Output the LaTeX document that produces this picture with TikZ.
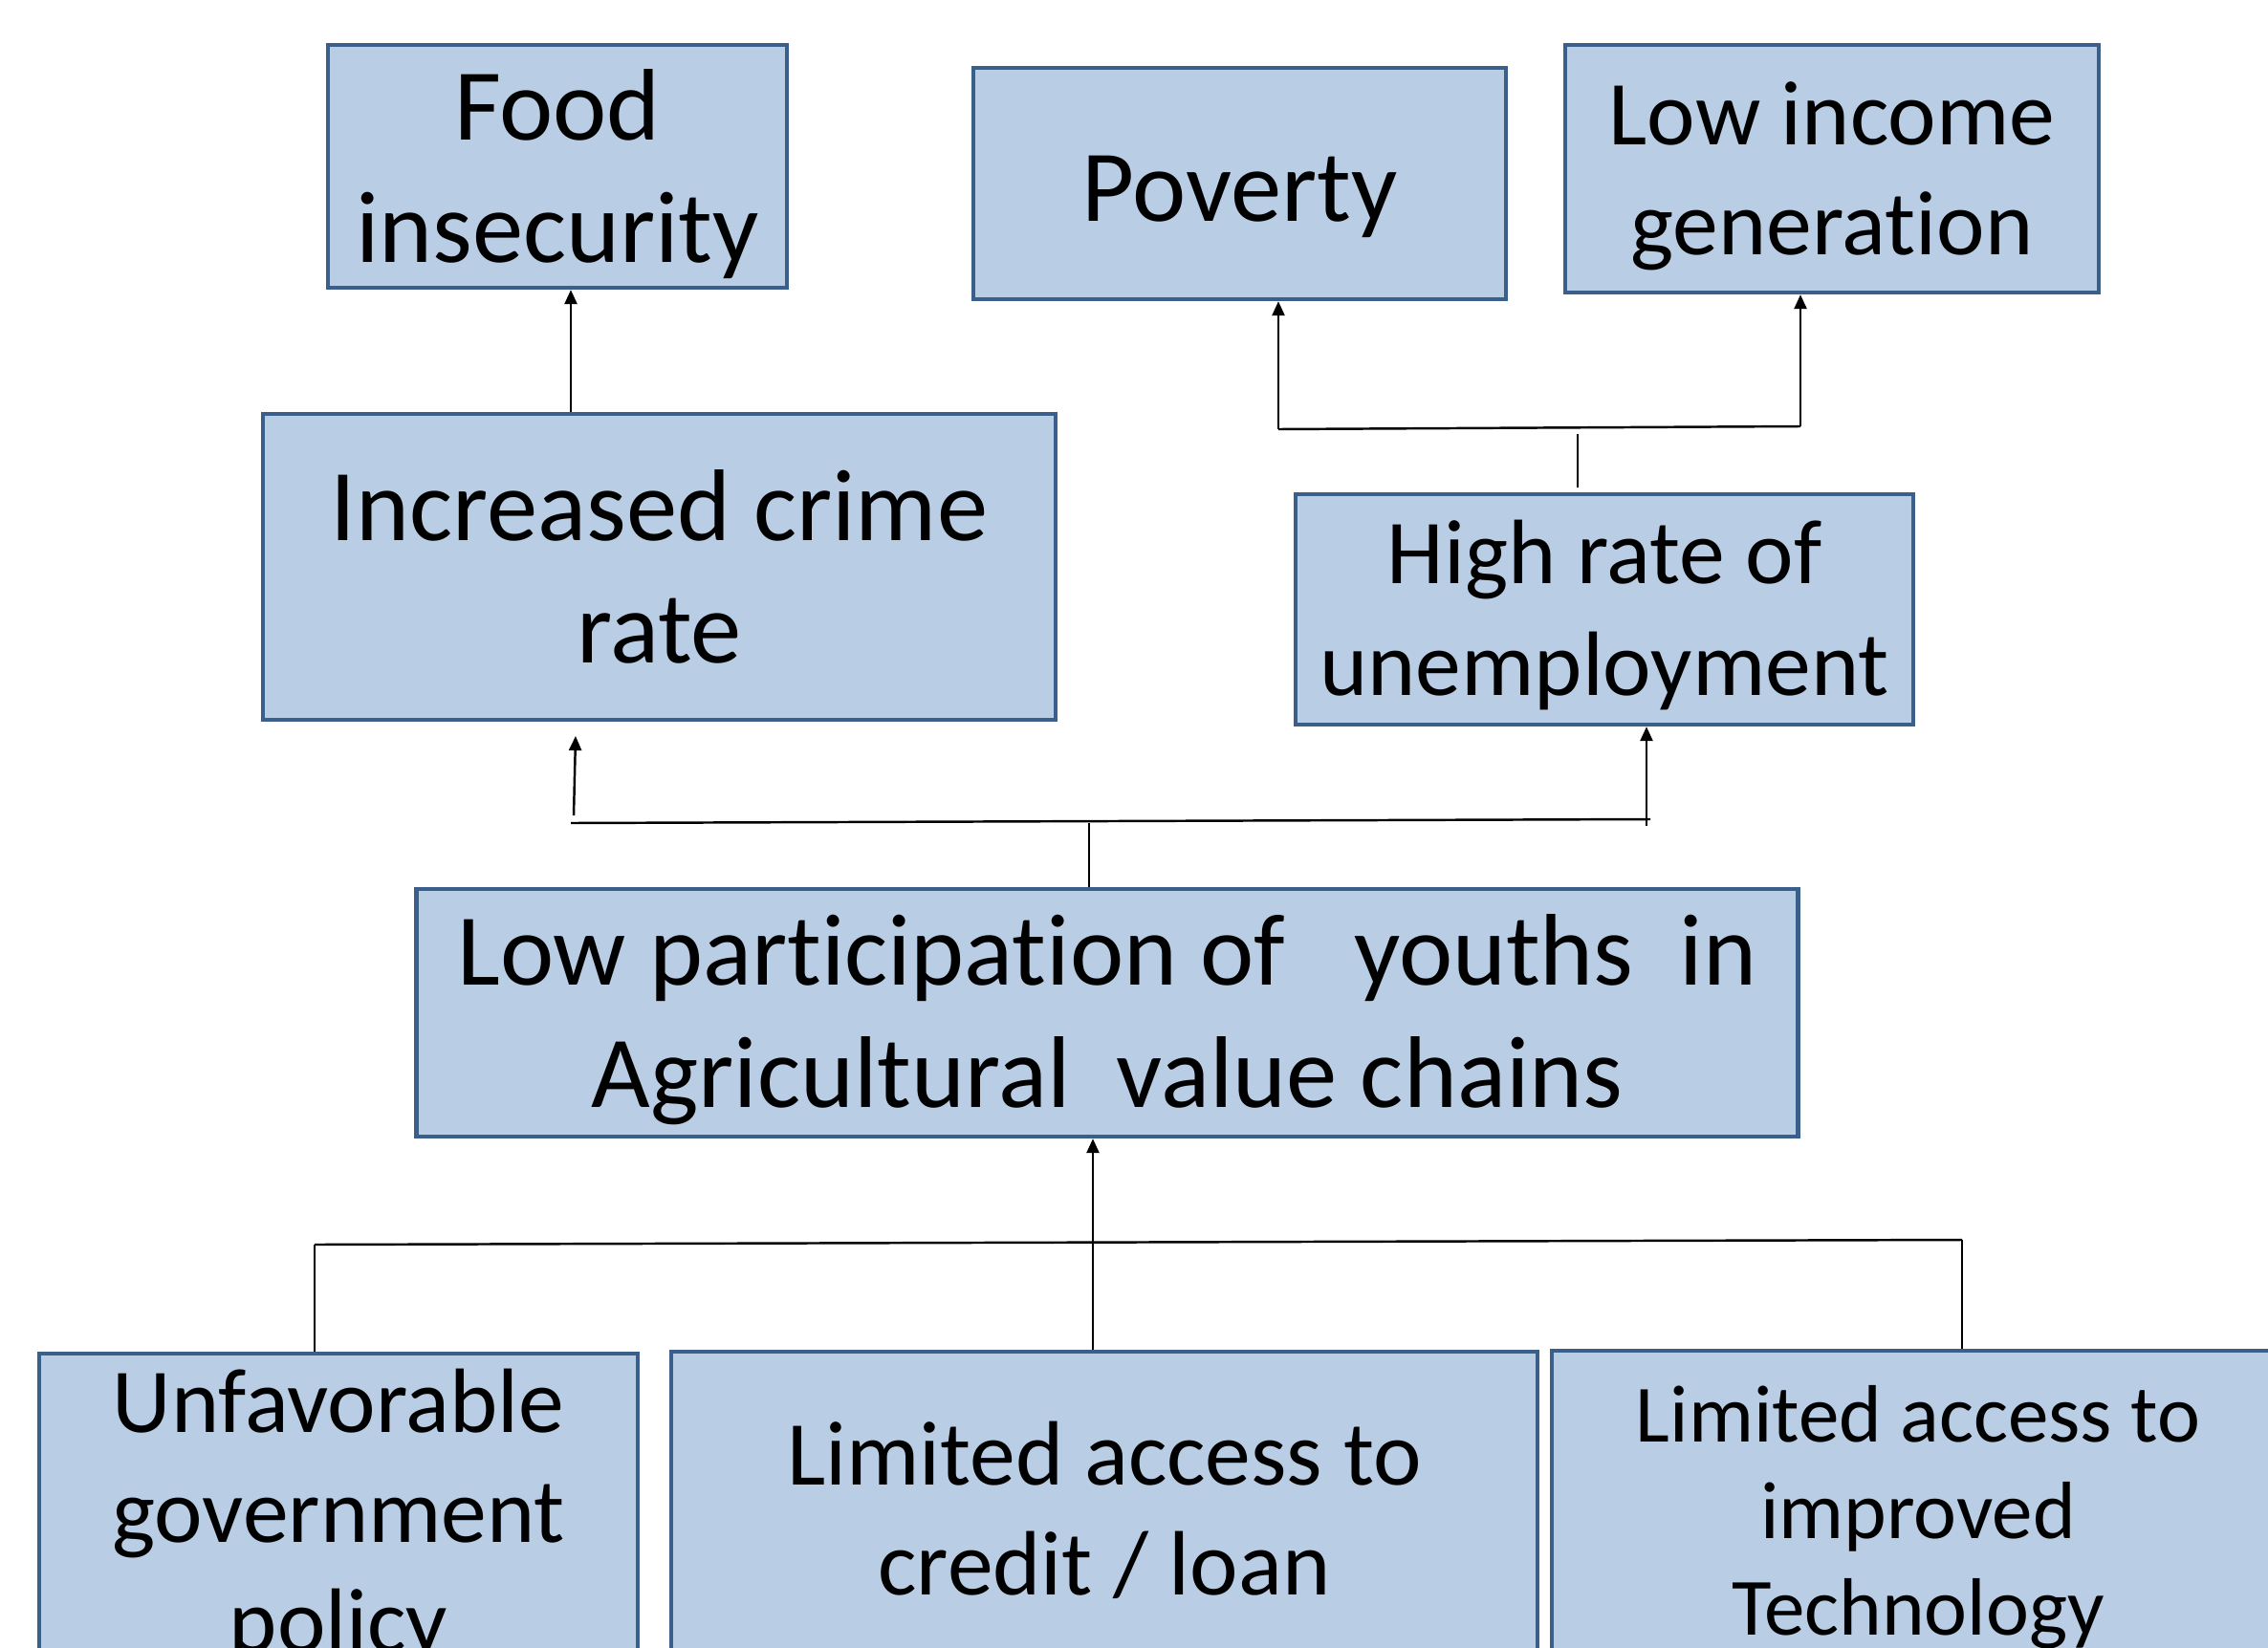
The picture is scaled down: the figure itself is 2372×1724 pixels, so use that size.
\documentclass[tikz,border=0pt]{standalone}
\usepackage{fontspec}
\setmainfont[RawFeature=-liga]{Carlito}
\usetikzlibrary{arrows.meta}
\definecolor{boxfill}{HTML}{B9CDE5}
\definecolor{boxline}{HTML}{3A5F8B}
\tikzset{
  box/.style={draw=boxline, fill=boxfill, line width=1.2pt, inner sep=0pt},
  txt/.style={inner sep=0pt, align=center, text=black},
  fsA/.style={font={\fontsize{30.3pt}{36.4pt}\selectfont}},
  fsB/.style={font={\fontsize{27.2pt}{32.6pt}\selectfont}},
  fsC/.style={font={\fontsize{27.2pt}{33pt}\selectfont}},
  fsD/.style={font={\fontsize{24.2pt}{28.7pt}\selectfont}},
  conn/.style={line width=0.7pt, black},
  arr/.style={conn, -{Triangle[length=0.15cm,width=0.13cm]}}
}
\begin{document}
\begin{tikzpicture}[x=0.01cm,y=-0.01cm]
\useasboundingbox (0,0) rectangle (2372,1724);
% boxes
\node[box, minimum width=4.80cm, minimum height=2.54cm] (food) at (583,174) {};
\node[box, minimum width=5.57cm, minimum height=2.42cm] (poverty) at (1296.5,192) {};
\node[box, minimum width=5.58cm, minimum height=2.59cm] (income) at (1916,176.5) {};
\node[box, minimum width=8.29cm, minimum height=3.20cm] (crime) at (689.5,593) {};
\node[box, minimum width=6.46cm, minimum height=2.41cm] (unemp) at (1678,637.5) {};
\node[box, minimum width=14.44cm, minimum height=2.59cm] (part) at (1158,1059.5) {};
\node[box, minimum width=6.26cm, minimum height=3.38cm] (unfav) at (354,1585) {};
\node[box, minimum width=9.06cm, minimum height=3.32cm] (credit) at (1155,1580) {};
\node[box, minimum width=7.66cm, minimum height=3.42cm] (tech) at (2006,1584) {};
% texts
\node[txt, fsA] (foodt) at ([yshift=-0.076cm]food.center) {Food\\insecurity};
\node[txt, fsA] (povertyt) at ([yshift=-0.136cm]poverty.center) {Poverty};
\node[txt, fsB] (incomet) at ([yshift=-0.076cm]income.center) {Low income\\generation};
\node[txt, fsA] (crimet) at (crime.center) {Increased crime\\rate};
\node[txt, fsC] (unempt) at ([yshift=-0.06cm]unemp.center) {High rate of\\unemployment};
\node[txt, fsA] (partt) at ([yshift=-0.076cm]part.center) {Low participation of\ \ \ youths\ \ in\\Agricultural\ \ value chains};
\node[txt, fsB] (unfavt) at ([yshift=-0.03cm]unfav.center) {Unfavorable\\government\\policy};
\node[txt, fsB] (creditt) at (credit.center) {Limited access to\\credit / loan};
\node[txt, fsD] (techt) at ([yshift=-0.03cm]tech.center) {Limited access to\\improved\\Technology};
% helper coordinates
\coordinate (xf) at (597,0);
\coordinate (pl) at (1337,449);
\coordinate (pr) at (1883,446);
\coordinate (st1) at (1650,454);
\coordinate (st2) at (1650,510);
\coordinate (ml) at (597,861);
\coordinate (mr) at (1726,857);
\coordinate (ca1) at (600,853);
\coordinate (ca2) at (602,770);
\coordinate (xr) at (1722,864);
\coordinate (xm) at (1139,861);
\coordinate (xb) at (1143,0);
\coordinate (bl) at (329,1302);
\coordinate (br) at (2052,1297);
% top connectors
\draw[arr] (crime.north -| xf) -- (food.south -| xf);
\draw[conn] (pl) -- (pr);
\draw[arr] (pl) -- (poverty.south -| pl);
\draw[arr] (pr) -- (income.south -| pr);
\draw[conn] (st1) -- (st2);
% middle connectors
\draw[conn] (ml) -- (mr);
\draw[arr] (ca1) -- (ca2);
\draw[arr] (xr) -- (unemp.south -| xr);
\draw[conn] (xm) -- (part.north -| xm);
% bottom connectors
\draw[arr] (credit.north -| xb) -- (part.south -| xb);
\draw[conn] (bl) -- (br);
\draw[conn] (bl) -- (unfav.north -| bl);
\draw[conn] (br) -- (tech.north -| br);
\end{tikzpicture}
\end{document}
